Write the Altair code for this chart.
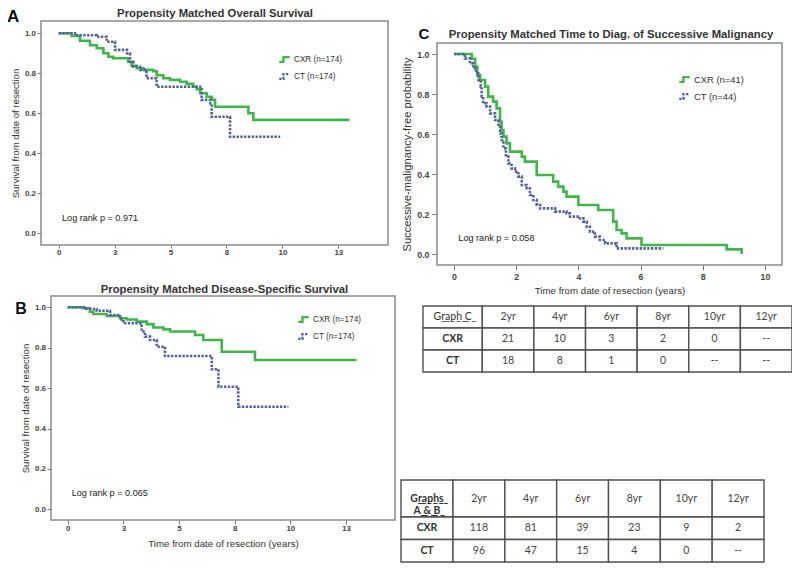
import altair as alt
import pandas as pd

# ---------------- data ----------------
ab_xticks = [0, 2.5, 5, 7.5, 10, 12.5]
c_xticks = [0, 2, 4, 6, 8, 10]
surv_ticks = [0.0, 0.2, 0.4, 0.6, 0.8, 1.0]

grp_ab = ["CXR (n=174)", "CT (n=174)"]
grp_c = ["CXR (n=41)", "CT (n=44)"]

# Panel A: overall survival
a_cxr_t = [0, 0.58, 0.95, 1.4, 1.7, 2.0, 2.22, 2.44, 3.11, 3.26, 3.49, 3.79, 4.23, 4.38, 4.68,
           4.98, 5.42, 5.72, 6.02, 6.17, 6.32, 6.62, 6.84, 6.99, 8.48, 8.70, 13.0]
a_cxr_s = [1.0, 0.987, 0.963, 0.94, 0.925, 0.90, 0.883, 0.875, 0.858, 0.838, 0.825, 0.817, 0.81, 0.79, 0.775,
           0.767, 0.758, 0.747, 0.733, 0.72, 0.70, 0.683, 0.667, 0.633, 0.60, 0.567, 0.567]
a_ct_t = [0, 0.80, 1.70, 2.15, 2.52, 3.05, 3.19, 3.34, 3.64, 3.93, 4.38, 6.39, 6.77, 6.84, 7.66, 9.9]
a_ct_s = [1.0, 0.99, 0.983, 0.958, 0.917, 0.90, 0.858, 0.833, 0.817, 0.775, 0.733, 0.667, 0.65, 0.583, 0.483, 0.483]

# Panel B: disease-specific survival
b_cxr_t = [0, 0.70, 1.0, 1.15, 1.75, 2.35, 2.65, 3.1, 3.55, 3.85, 4.3, 4.6, 5.72, 6.09, 6.92, 8.41, 12.98]
b_cxr_s = [1.0, 0.995, 0.978, 0.967, 0.957, 0.946, 0.94, 0.929, 0.917, 0.9, 0.891, 0.88, 0.863, 0.838, 0.78, 0.739, 0.739]
b_ct_t = [0, 0.85, 1.3, 1.9, 2.35, 2.5, 3.32, 3.47, 3.7, 4.0, 4.37, 6.47, 6.77, 7.66, 9.91]
b_ct_s = [1.0, 0.992, 0.983, 0.962, 0.94, 0.921, 0.88, 0.855, 0.838, 0.805, 0.759, 0.693, 0.607, 0.508, 0.508]

# Panel C: time to diagnosis of successive malignancy
c_cxr_t = [0, 0.57, 0.68, 0.75, 0.84, 1.0, 1.1, 1.26, 1.37, 1.48, 1.53, 1.59, 1.69, 1.8, 2.18, 2.28, 2.66,
           3.19, 3.35, 3.52, 3.62, 4.0, 4.64, 5.12, 5.23, 5.39, 5.55, 6.03, 8.77, 9.25]
c_cxr_s = [1.0, 0.976, 0.937, 0.895, 0.87, 0.837, 0.787, 0.762, 0.728, 0.662, 0.62, 0.587, 0.553, 0.512, 0.487,
           0.462, 0.395, 0.362, 0.337, 0.312, 0.287, 0.245, 0.22, 0.162, 0.12, 0.103, 0.078, 0.045, 0.023, 0.0]
c_ct_t = [0, 0.35, 0.51, 0.62, 0.71, 0.78, 0.86, 0.89, 0.94, 1.05, 1.16, 1.32, 1.43, 1.48, 1.53, 1.59, 1.67,
          1.75, 1.85, 1.96, 2.07, 2.18, 2.34, 2.44, 2.55, 2.66, 2.77, 3.25, 3.62, 3.73, 4.05, 4.16, 4.27,
          4.37, 4.53, 4.69, 4.86, 5.23, 6.73]
c_ct_s = [1.0, 0.978, 0.953, 0.928, 0.903, 0.87, 0.837, 0.787, 0.753, 0.737, 0.703, 0.67, 0.637, 0.603, 0.57,
          0.528, 0.487, 0.453, 0.428, 0.412, 0.387, 0.345, 0.328, 0.295, 0.27, 0.245, 0.228, 0.212, 0.203,
          0.187, 0.178, 0.162, 0.137, 0.112, 0.087, 0.07, 0.053, 0.028, 0.028]

# Number-at-risk tables
years = ["2yr", "4yr", "6yr", "8yr", "10yr", "12yr"]
risk_rows = ["CXR", "CT"]
tc_cxr = ["21", "10", "3", "2", "0", "--"]
tc_ct = ["18", "8", "1", "0", "--", "--"]
tab_cxr = ["118", "81", "39", "23", "9", "2"]
tab_ct = ["96", "47", "15", "4", "0", "--"]

# ---------------- styling ----------------
W, H = 784, 555
GREEN = "#3fb54a"
BLUE = "#52609e"
FRAME = "#8a8a8a"
FONT = "Liberation Sans"
TFONT = "Lato"
STEP = "M-1,0.45H-0.2V-0.45H1"


def underline(s):
    return "".join(c if c == "\n" else c + "\u0332" for c in s)


def text_layer(text, x, y, xs, ys, xaxis, yaxis, **mark):
    return alt.Chart(pd.DataFrame({"label": [text]})).mark_text(**mark).encode(
        x=alt.XDatum(x, scale=xs, axis=xaxis),
        y=alt.YDatum(y, scale=ys, axis=yaxis),
        text="label:N",
    )


def km_panel(curves, groups, xdom, xrng, ydom, yrng, xticks, xoff, yoff, ytitle, xtitle,
             leg_x, leg_y, leg_size, title, title_pos, letter, letter_pos, letter_size,
             logrank, logrank_pos, ytitle_size=9.6, lab_size=8, xtick=4, xpad=0, ytick=4,
             ypad=1.5, xtitle_pad=4):
    rows = []
    for g, (ts, ss) in zip(groups, curves):
        for t, s in zip(ts, ss):
            rows.append({"t": t, "s": s, "grp": g})
    df = pd.DataFrame(rows)
    xs = alt.Scale(domain=xdom, range=xrng, nice=False, zero=False)
    ys = alt.Scale(domain=ydom, range=yrng, nice=False, zero=False)
    xaxis = alt.Axis(values=xticks, format=".0f", orient="bottom", offset=xoff,
                     labelFlush=False, title=xtitle, labelFontSize=lab_size, tickSize=xtick,
                     labelPadding=xpad, titlePadding=xtitle_pad)
    yaxis = alt.Axis(values=surv_ticks, format=".1f", orient="left", offset=yoff,
                     title=ytitle, titleFontSize=ytitle_size, labelFontSize=lab_size,
                     tickSize=ytick, labelPadding=ypad)

    frame_df = pd.DataFrame({"x0": [xdom[0]], "x1": [xdom[1]], "y0": [ydom[0]], "y1": [ydom[1]]})
    frame = alt.Chart(frame_df).mark_rect(fillOpacity=0, stroke=FRAME, strokeWidth=1.5).encode(
        x=alt.X("x0:Q", scale=xs, axis=xaxis), x2="x1:Q",
        y=alt.Y("y0:Q", scale=ys, axis=yaxis), y2="y1:Q",
    )

    leg = alt.Legend(title=None, orient="none", legendX=leg_x, legendY=leg_y,
                     symbolType=STEP, symbolSize=110, symbolStrokeWidth=2.4,
                     symbolFillColor="transparent", labelFont=FONT, labelFontSize=leg_size,
                     labelColor="#333", rowPadding=2, labelOffset=3)
    lines = alt.Chart(df).mark_line(interpolate="step-after", strokeWidth=2.6).encode(
        x=alt.X("t:Q", scale=xs, axis=xaxis),
        y=alt.Y("s:Q", scale=ys, axis=yaxis),
        color=alt.Color("grp:N", scale=alt.Scale(domain=groups, range=[GREEN, BLUE]), legend=leg),
        strokeDash=alt.StrokeDash("grp:N", scale=alt.Scale(domain=groups, range=[[1, 0], [2.4, 1.4]]),
                                  legend=leg),
    )
    t1 = text_layer(title, title_pos[0], title_pos[1], xs, ys, xaxis, yaxis, font=FONT, fontSize=11.3,
                    fontWeight="bold", color="#333", align="center", baseline="alphabetic")
    t2 = text_layer(letter, letter_pos[0], letter_pos[1], xs, ys, xaxis, yaxis, font=FONT,
                    fontSize=letter_size, fontWeight="bold", color="#111", align="center",
                    baseline="alphabetic")
    t3 = text_layer(logrank, logrank_pos[0], logrank_pos[1], xs, ys, xaxis, yaxis, font=FONT,
                    fontSize=9.1, color="#222", align="left", baseline="middle")
    return alt.layer(frame, lines, t1, t2, t3)


def table_block(df, keys, xr, row_keys, yr, bold, color):
    xs = alt.Scale(domain=keys, range=xr, paddingInner=0, paddingOuter=0)
    ys = alt.Scale(domain=row_keys, range=yr, paddingInner=0, paddingOuter=0)
    enc = dict(x=alt.X("col:N", scale=xs, axis=None), y=alt.Y("row:N", scale=ys, axis=None))
    cells = alt.Chart(df).mark_rect(fill="white", stroke="#505050", strokeWidth=1.4).encode(**enc)
    txt = alt.Chart(df).mark_text(font=TFONT, fontSize=10.5, color=color, lineBreak="\n",
                                  fontWeight="bold" if bold else "normal").encode(text="txt:N", **enc)
    return alt.layer(cells, txt)


def risk_table(head_label, cxr_vals, ct_vals, x0, xsplit, x1, head_yr, body_yr, head_bold):
    keys = [f"c{i}" for i in range(len(years) + 1)]
    hdf = pd.DataFrame({"col": keys, "row": ["h"] * len(keys),
                        "txt": [underline(head_label)] + years})
    brows = []
    for rname, vals in zip(risk_rows, [cxr_vals, ct_vals]):
        for k, v in zip(keys, [rname] + vals):
            brows.append({"col": k, "row": rname, "txt": v})
    bdf = pd.DataFrame(brows)
    first_h = hdf[hdf["col"] == keys[0]]
    rest_h = hdf[hdf["col"] != keys[0]]
    first_b = bdf[bdf["col"] == keys[0]]
    rest_b = bdf[bdf["col"] != keys[0]]
    return [
        table_block(first_h, keys[:1], [x0, xsplit], ["h"], head_yr, head_bold, "#333"),
        table_block(rest_h, keys[1:], [xsplit, x1], ["h"], head_yr, False, "#444"),
        table_block(first_b, keys[:1], [x0, xsplit], risk_rows, body_yr, True, "#333"),
        table_block(rest_b, keys[1:], [xsplit, x1], risk_rows, body_yr, False, "#444"),
    ]


panel_a = km_panel(
    [(a_cxr_t, a_cxr_s), (a_ct_t, a_ct_s)], grp_ab,
    xdom=[-0.79, 14.72], xrng=[33, 380], ydom=[-0.0585, 1.0615], yrng=[237, 13],
    xticks=ab_xticks, xoff=237 - H, yoff=-33,
    ytitle="Survival from date of resection", xtitle=None,
    leg_x=270, leg_y=45, leg_size=8.2,
    title="Propensity Matched Overall Survival", title_pos=(6.99, 1.083),
    letter="A", letter_pos=(-2.04, 1.0565), letter_size=17,
    logrank="Log rank p = 0.971", logrank_pos=(0.15, 0.077),
    xtick=3, xpad=0,
)

panel_b = km_panel(
    [(b_cxr_t, b_cxr_s), (b_ct_t, b_ct_s)], grp_ab,
    xdom=[-0.75, 14.70], xrng=[43, 387], ydom=[-0.053, 1.056], yrng=[512, 288],
    xticks=ab_xticks, xoff=512 - H, yoff=-43,
    ytitle="Survival from date of resection", xtitle="Time from date of resection (years)",
    leg_x=289, leg_y=305, leg_size=8.2,
    title="Propensity Matched Disease-Specific Survival", title_pos=(7.04, 1.069),
    letter="B", letter_pos=(-2.1, 0.969), letter_size=16,
    logrank="Log rank p = 0.065", logrank_pos=(0.18, 0.082),
    xtick=4, xpad=0, xtitle_pad=6,
)

panel_c = km_panel(
    [(c_cxr_t, c_cxr_s), (c_ct_t, c_ct_s)], grp_c,
    xdom=[-0.547, 10.55], xrng=[429, 774], ydom=[-0.055, 1.055], yrng=[257, 35],
    xticks=c_xticks, xoff=257 - H, yoff=-429,
    ytitle="Successive-malignancy-free probability", xtitle="Time from date of resection (years)",
    leg_x=670, leg_y=65, leg_size=9.4,
    title="Propensity Matched Time to Diag. of Successive Malignancy", title_pos=(5.05, 1.0785),
    letter="C", letter_pos=(-0.965, 1.0775), letter_size=15,
    logrank="Log rank p = 0.058", logrank_pos=(0.14, 0.078),
    ytitle_size=11.2, lab_size=8.8, xtick=5, xpad=2, ytick=5, ypad=3, xtitle_pad=5,
)

table_c = risk_table("Graph C", tc_cxr, tc_ct, 415, 474.3, 784, [298, 320], [320, 364], False)
table_ab = risk_table("Graphs\nA & B", tab_cxr, tab_ct, 393, 445, 756, [472, 509], [509, 554], True)

chart = alt.layer(panel_a, panel_b, panel_c, *table_c, *table_ab).resolve_scale(
    x="independent", y="independent", color="independent", strokeDash="independent"
).resolve_axis(
    x="independent", y="independent"
).resolve_legend(
    color="independent", strokeDash="independent"
).properties(
    width=W, height=H, padding=0, autosize=alt.AutoSizeParams(type="none"), background="white"
).configure_view(
    strokeWidth=0
).configure_axis(
    labelFont=FONT, labelFontSize=8, labelFontWeight="bold", labelColor="#444",
    tickColor="#777", tickSize=4, tickWidth=1, domain=False, grid=False,
    titleFont=FONT, titleFontSize=9.7, titleFontWeight="normal", titleColor="#333",
    labelPadding=1.5, titlePadding=4,
)

chart.save("out.html", embed_options={"renderer": "svg", "actions": False})
